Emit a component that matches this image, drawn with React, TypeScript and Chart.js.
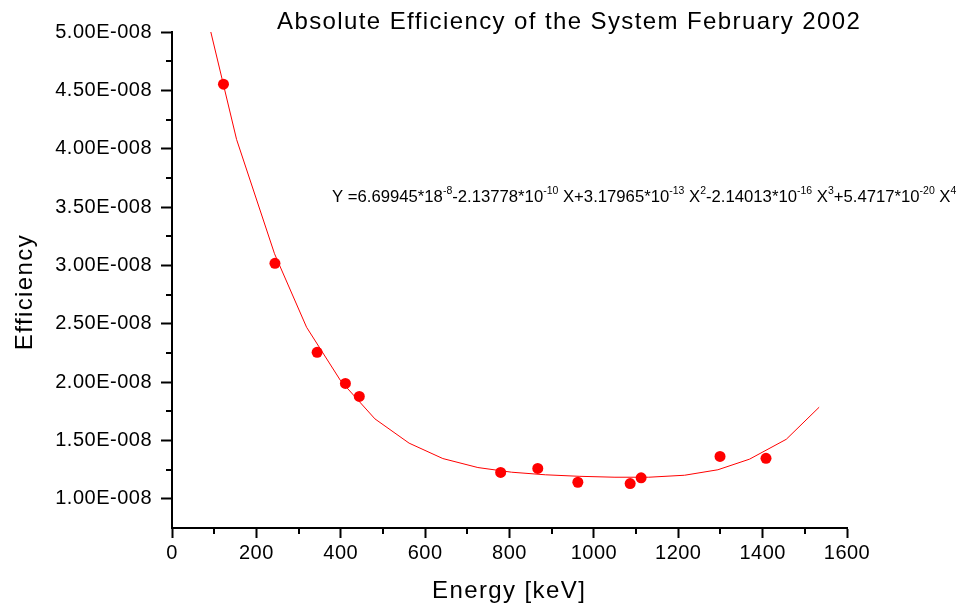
import React, { useEffect, useRef } from 'react';
import { Chart, registerables } from 'chart.js';

Chart.register(...registerables);

// Measured efficiency points (Energy in keV)
const MEASURED_ENERGY = [122, 244, 344, 411, 444, 779, 867, 962, 1086, 1112, 1299, 1408];
const MEASURED_EFF = [4.553e-8, 3.018e-8, 2.255e-8, 1.989e-8, 1.877e-8, 1.226e-8, 1.26e-8, 1.142e-8, 1.131e-8, 1.18e-8, 1.363e-8, 1.347e-8];

// Fitted curve vertices
const FIT_ENERGY = [92, 153, 243, 319, 400, 481, 562, 642, 725, 805, 885, 965, 1050, 1130, 1215, 1294, 1369, 1456, 1534];
const FIT_EFF = [5.0e-8, 4.08e-8, 3.1e-8, 2.47e-8, 2.01e-8, 1.685e-8, 1.477e-8, 1.345e-8, 1.268e-8, 1.228e-8, 1.206e-8, 1.193e-8, 1.185e-8, 1.185e-8, 1.202e-8, 1.249e-8, 1.34e-8, 1.51e-8, 1.785e-8];

// Axis ticks
const X_MAJOR_TICKS = [0, 200, 400, 600, 800, 1000, 1200, 1400, 1600];
const X_MINOR_TICKS = [100, 300, 500, 700, 900, 1100, 1300, 1500];
const Y_MAJOR_TICKS = [1.0e-8, 1.5e-8, 2.0e-8, 2.5e-8, 3.0e-8, 3.5e-8, 4.0e-8, 4.5e-8, 5.0e-8];
const Y_MINOR_TICKS = [1.25e-8, 1.75e-8, 2.25e-8, 2.75e-8, 3.25e-8, 3.75e-8, 4.25e-8, 4.75e-8];

const TITLE = 'Absolute Efficiency of the System February 2002';
const X_TITLE = 'Energy [keV]';
const Y_TITLE = 'Efficiency';
// [text, isSuperscript]
const EQUATION_PARTS: [string, boolean][] = [
  ['Y =6.69945*18', false], ['-8', true],
  ['-2.13778*10', false], ['-10', true],
  [' X+3.17965*10', false], ['-13', true],
  [' X', false], ['2', true],
  ['-2.14013*10', false], ['-16', true],
  [' X', false], ['3', true],
  ['+5.4717*10', false], ['-20', true],
  [' X', false], ['4', true],
];

const FONT = "'Liberation Sans', Arial, sans-serif";

const decorations = {
  id: 'decorations',
  beforeDraw(chart: any) {
    (chart.ctx as any).letterSpacing = '0.5px';
  },
  afterDraw(chart: any) {
    const ctx = chart.ctx as CanvasRenderingContext2D;
    const xs = chart.scales.x;
    const ys = chart.scales.y;
    const area = chart.chartArea;
    ctx.save();
    ctx.strokeStyle = '#000';
    ctx.lineWidth = 2;
    X_MINOR_TICKS.forEach((v) => {
      const px = Math.round(xs.getPixelForValue(v));
      ctx.beginPath();
      ctx.moveTo(px, area.bottom);
      ctx.lineTo(px, area.bottom + 6);
      ctx.stroke();
    });
    Y_MINOR_TICKS.forEach((v) => {
      const py = Math.round(ys.getPixelForValue(v));
      ctx.beginPath();
      ctx.moveTo(area.left, py);
      ctx.lineTo(area.left - 6, py);
      ctx.stroke();
    });

    ctx.fillStyle = '#000';
    ctx.textBaseline = 'alphabetic';
    (ctx as any).letterSpacing = '1.4px';
    ctx.font = `24px ${FONT}`;
    ctx.textAlign = 'left';
    ctx.fillText(TITLE, 277, 29);
    ctx.fillText(X_TITLE, 432, 598);

    ctx.save();
    ctx.translate(32, 292);
    ctx.rotate(-Math.PI / 2);
    ctx.textAlign = 'center';
    ctx.fillText(Y_TITLE, 0, 0);
    ctx.restore();

    (ctx as any).letterSpacing = '0px';
    let x = 332;
    const base = 201.5;
    EQUATION_PARTS.forEach(([t, sup]) => {
      ctx.font = sup ? `10.5px ${FONT}` : `16.7px ${FONT}`;
      ctx.fillText(t, x, sup ? base - 8 : base);
      x += ctx.measureText(t).width;
    });
    ctx.restore();
    (ctx as any).letterSpacing = '0px';
  },
};

export default function App() {
  const ref = useRef<HTMLCanvasElement>(null);
  useEffect(() => {
    if (!ref.current) return;
    const chart = new Chart(ref.current, {
      type: 'scatter',
      data: {
        datasets: [
          {
            type: 'scatter',
            data: MEASURED_ENERGY.map((e, i) => ({ x: e, y: MEASURED_EFF[i] })),
            backgroundColor: '#ff0000',
            borderWidth: 0,
            pointRadius: 5.5,
            order: 0,
          } as any,
          {
            type: 'line',
            data: FIT_ENERGY.map((e, i) => ({ x: e, y: FIT_EFF[i] })),
            borderColor: '#ff0000',
            borderWidth: 1,
            pointRadius: 0,
            tension: 0,
            fill: false,
            order: 1,
          } as any,
        ],
      },
      options: {
        animation: false,
        responsive: false,
        layout: { padding: { top: 32, right: 114, left: 0, bottom: 0 } },
        plugins: {
          legend: { display: false },
          title: { display: false },
          tooltip: { enabled: false },
        },
        scales: {
          x: {
            type: 'linear',
            min: 0,
            max: 1600,
            afterBuildTicks: (s: any) => {
              s.ticks = X_MAJOR_TICKS.map((v) => ({ value: v }));
            },
            afterFit: (s: any) => {
              s.height = 78;
            },
            grid: { drawOnChartArea: false, drawTicks: true, tickLength: 10, tickWidth: 2, tickColor: '#000' },
            border: { display: true, color: '#000', width: 2 },
            ticks: {
              color: '#000',
              font: { family: FONT, size: 20 },
              padding: 3,
              maxRotation: 0,
              autoSkip: false,
              callback: (v: any) => String(v),
            },
          },
          y: {
            type: 'linear',
            min: 0.75e-8,
            max: 5.0e-8,
            afterBuildTicks: (s: any) => {
              s.ticks = Y_MAJOR_TICKS.map((v) => ({ value: v }));
            },
            afterFit: (s: any) => {
              s.width = 172;
            },
            grid: { drawOnChartArea: false, drawTicks: true, tickLength: 11, tickWidth: 2, tickColor: '#000' },
            border: { display: true, color: '#000', width: 2 },
            ticks: {
              color: '#000',
              font: { family: FONT, size: 20 },
              padding: 9,
              autoSkip: false,
              callback: (v: any) => (Number(v) / 1e-8).toFixed(2) + 'E-008',
            },
          },
        },
      } as any,
      plugins: [decorations],
    });
    return () => chart.destroy();
  }, []);
  return (
    <div style={{ position: 'fixed', left: 0, top: 0, width: 961, height: 606, background: '#fff' }}>
      <canvas ref={ref} width={961} height={606} style={{ width: 961, height: 606, display: 'block' }} />
    </div>
  );
}
